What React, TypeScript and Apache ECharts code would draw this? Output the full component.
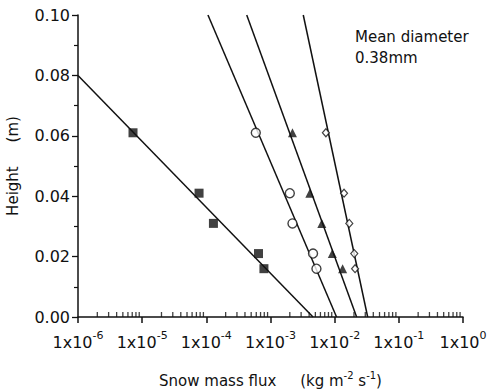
import React, { useEffect, useRef } from "react";
import * as echarts from "echarts";

// ---- data ----
const heights = [0.061, 0.041, 0.031, 0.021, 0.016];
const squareFlux = [7.2e-6, 7.7e-5, 1.29e-4, 6.5e-4, 7.9e-4];
const circleFlux = [5.9e-4, 2.0e-3, 2.2e-3, 4.6e-3, 5.2e-3];
const triangleFlux = [2.2e-3, 4.1e-3, 6.3e-3, 9.2e-3, 1.33e-2];
const diamondFlux = [7.3e-3, 1.4e-2, 1.69e-2, 2.02e-2, 2.08e-2];

// fitted lines: [flux, height] end points
const squareFit = [[1e-6, 0.08], [4.6e-3, 0]];
const circleFit = [[1.06e-4, 0.1], [1.07e-2, 0]];
const triangleFit = [[4.26e-4, 0.1], [2.2e-2, 0]];
const diamondFit = [[3.24e-3, 0.1], [3.27e-2, 0]];

// axis ticks
const xTickExponents = [-6, -5, -4, -3, -2, -1, 0];
const yTicks = [0, 0.02, 0.04, 0.06, 0.08, 0.1];
const logMinorMultipliers = [2, 3, 4, 5, 6, 7, 8, 9];

const FONT = "DejaVu Sans";
const INK = "#111";

export default function App() {
  const ref = useRef<HTMLDivElement>(null);

  useEffect(() => {
    if (!ref.current) return;
    document.body.style.margin = "0";
    const chart = echarts.init(ref.current, undefined, { renderer: "svg" });

    const pts = (xs: number[]) => xs.map((x, i) => [x, heights[i]]);
    const minorTicks: number[][] = [];
    xTickExponents.slice(0, -1).forEach((e) => {
      logMinorMultipliers.forEach((m) => minorTicks.push([m * Math.pow(10, e), 0]));
    });

    const fitLine = (data: number[][]) => ({
      type: "line",
      data,
      showSymbol: false,
      silent: true,
      lineStyle: { color: INK, width: 1.5 },
      z: 2,
    });

    chart.setOption({
      animation: false,
      backgroundColor: "#fff",
      grid: { left: 78, right: 25, top: 15, bottom: 75, containLabel: false, outerBoundsMode: "none" },
      xAxis: {
        type: "log",
        logBase: 10,
        min: Math.pow(10, xTickExponents[0]),
        max: Math.pow(10, xTickExponents[xTickExponents.length - 1]),
        splitNumber: 6,
        splitLine: { show: false },
        axisLine: { lineStyle: { color: INK, width: 1.5 } },
        axisTick: { show: true, length: 6, lineStyle: { color: INK, width: 1.5 } },
        minorTick: { show: false },
        axisLabel: {
          margin: 13,
          showMinLabel: true,
          showMaxLabel: true,
          hideOverlap: false,
          formatter: (v: number) => {
            const e = Math.round(Math.log10(v));
            return "{b|1x10}{sup|" + e + "}";
          },
          rich: {
            b: { fontFamily: FONT, fontSize: 16, color: INK, lineHeight: 24 },
            sup: { fontFamily: FONT, fontSize: 11, color: INK, lineHeight: 10, verticalAlign: "top" },
          },
        },
        name: "{t|Snow mass flux     (kg m}{sup|-2}{t| s}{sup|-1}{t|)}",
        nameLocation: "middle",
        nameGap: 53,
        nameTextStyle: {
          rich: {
            t: { fontFamily: FONT, fontSize: 15, color: INK, lineHeight: 22 },
            sup: { fontFamily: FONT, fontSize: 10, color: INK, lineHeight: 10, verticalAlign: "top" },
          },
        },
      },
      yAxis: {
        type: "value",
        min: yTicks[0],
        max: yTicks[yTicks.length - 1],
        interval: 0.02,
        splitLine: { show: false },
        axisLine: { show: true, lineStyle: { color: INK, width: 1.5 } },
        axisTick: { show: true, length: 6, lineStyle: { color: INK, width: 1.3 } },
        minorTick: { show: true, splitNumber: 2, length: 4, lineStyle: { color: INK, width: 1.2 } },
        axisLabel: {
          margin: 8,
          fontFamily: FONT,
          fontSize: 16,
          color: INK,
          formatter: (v: number) => v.toFixed(2),
        },
        name: "Height     (m)",
        nameLocation: "middle",
        nameGap: 58,
        nameTextStyle: { fontFamily: FONT, fontSize: 15, color: INK },
      },
      graphic: [
        {
          type: "text",
          left: 355,
          top: 26,
          style: {
            text: "Mean diameter\n0.38mm",
            fontFamily: FONT,
            fontSize: 15,
            lineHeight: 21,
            fill: INK,
          },
        },
      ],
      series: [
        // log minor ticks (inside, pointing up)
        {
          type: "scatter",
          data: minorTicks,
          symbol: "rect",
          symbolSize: [1.3, 5],
          symbolOffset: [0, -2.5],
          itemStyle: { color: INK },
          silent: true,
          clip: false,
          z: 5,
        },
        fitLine(squareFit),
        fitLine(circleFit),
        fitLine(triangleFit),
        fitLine(diamondFit),
        {
          type: "scatter",
          data: pts(squareFlux),
          symbol: "rect",
          symbolSize: 9,
          itemStyle: { color: INK },
          z: 3,
        },
        {
          type: "scatter",
          data: pts(circleFlux),
          symbol: "circle",
          symbolSize: 9,
          itemStyle: { color: "#fff", borderColor: INK, borderWidth: 1.4 },
          z: 3,
        },
        {
          type: "scatter",
          data: pts(triangleFlux),
          symbol: "triangle",
          symbolSize: 9,
          itemStyle: { color: INK },
          z: 3,
        },
        {
          type: "scatter",
          data: pts(diamondFlux),
          symbol: "diamond",
          symbolSize: [7, 8],
          itemStyle: { color: "#fff", borderColor: INK, borderWidth: 1.2 },
          z: 3,
        },
      ],
    });

    return () => chart.dispose();
  }, []);

  return <div ref={ref} style={{ width: 488, height: 392 }} />;
}
